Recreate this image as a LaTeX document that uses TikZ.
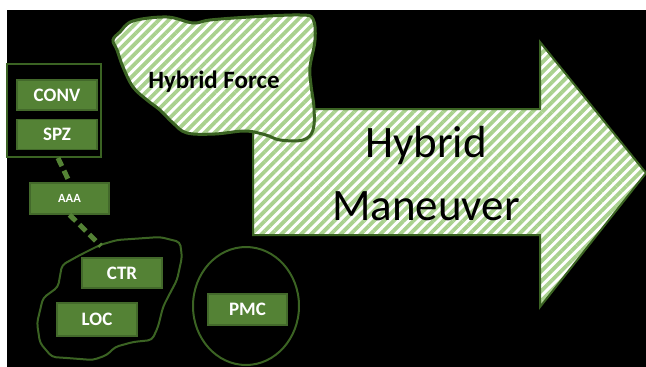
\documentclass[tikz,border=0pt]{standalone}
\usepackage{fontspec}
\setmainfont{Carlito}
\usepackage{tikz}
\usetikzlibrary{positioning, shapes.geometric, patterns.meta}
\definecolor{unitgreen}{HTML}{548235}
\definecolor{unitedge}{HTML}{43692B}
\definecolor{linegreen}{HTML}{3B6323}
\definecolor{stripegreen}{HTML}{A9D18E}
\tikzstyle{unit} = [
    rectangle, draw=unitedge, fill=unitgreen, line width=1.5pt,
    minimum width=80pt, minimum height=30pt, inner sep=0pt,
    text=white, font=\bfseries\fontsize{19}{19}\selectfont
]
\tikzstyle{group} = [rectangle, draw=linegreen, line width=2pt, inner sep=0pt]
\tikzstyle{hatched} = [
    draw=linegreen, line width=3pt, preaction={fill=white},
    pattern={Lines[angle=45, distance=7pt, line width=3.8pt]}, pattern color=stripegreen
]
\tikzstyle{link} = [draw=unitgreen, line width=5pt, dash pattern=on 9pt off 5pt]
\begin{document}
\begin{tikzpicture}[x=1pt, y=-1pt, node distance=8pt]
    \useasboundingbox (0,0) rectangle (646,367);
    \fill[white] (0,0) rectangle (646,367);
    \fill[black] (7,10) rectangle (646,367);

    % Maneuver arrow and force cloud
    \draw[hatched, line width=2pt] (253,109) -- (540,109) -- (540,42) -- (646,173)
        -- (540,307) -- (540,235) -- (253,235) -- cycle;
    \draw[hatched] plot[smooth cycle, tension=0.6] coordinates {
        (120,32) (133,21) (167,17) (193,23) (210,20) (250,17) (300,15) (313,19)
        (315,40) (310,67) (311,85) (314,108) (313,130) (303,140) (280,140)
        (266,135) (245,131) (215,134) (187,133) (173,123) (160,110) (147,100)
        (133,87) (123,67) (117,50) (113,40)};
    \node[font=\bfseries\fontsize{25}{25}\selectfont] (force) at (214,82) {Hybrid Force};
    \node[align=center, font=\fontsize{45}{63}\selectfont] (maneuver) at (426,174) {Hybrid\\Maneuver};

    % Units
    \node[group, minimum width=94pt, minimum height=93pt] (cav) at (54,110.5) {};
    \node[unit] (conv) at (57,95) {CONV};
    \node[unit, below=of conv] (spz) {SPZ};
    \node[unit, minimum width=79pt, minimum height=31pt,
        font=\bfseries\fontsize{12.5}{12.5}\selectfont] (aaa) at (69.5,198.5) {AAA};

    \draw[linegreen, line width=2pt, rounded corners=4pt] (100,245) -- (117,240) -- (160,237)
        -- (180,242) -- (182,257) -- (177,280) -- (168,297) -- (163,307) -- (158,327)
        -- (152,340) -- (133,342) -- (115,347) -- (107,355) -- (93,360) -- (67,358)
        -- (52,357) -- (40,343) -- (37,323) -- (43,298) -- (58,287) -- (62,265)
        -- (80,255) -- cycle;
    \coordinate (cluster) at (101,246);
    \node[unit] (ctr) at (122,273) {CTR};
    \node[unit, minimum height=33pt] (loc) at (97,319.5) {LOC};

    \node[ellipse, draw=linegreen, line width=2pt, minimum width=106pt,
        minimum height=118pt] (ring) at (246,306) {};
    \node[unit, minimum width=79pt, minimum height=31pt] (pmc) at (247.5,309.5) {PMC};

    % Links
    \draw[link] ([xshift=4pt]cav.south) -- (aaa.north);
    \draw[link] (aaa.south) -- (cluster);
\end{tikzpicture}
\end{document}
